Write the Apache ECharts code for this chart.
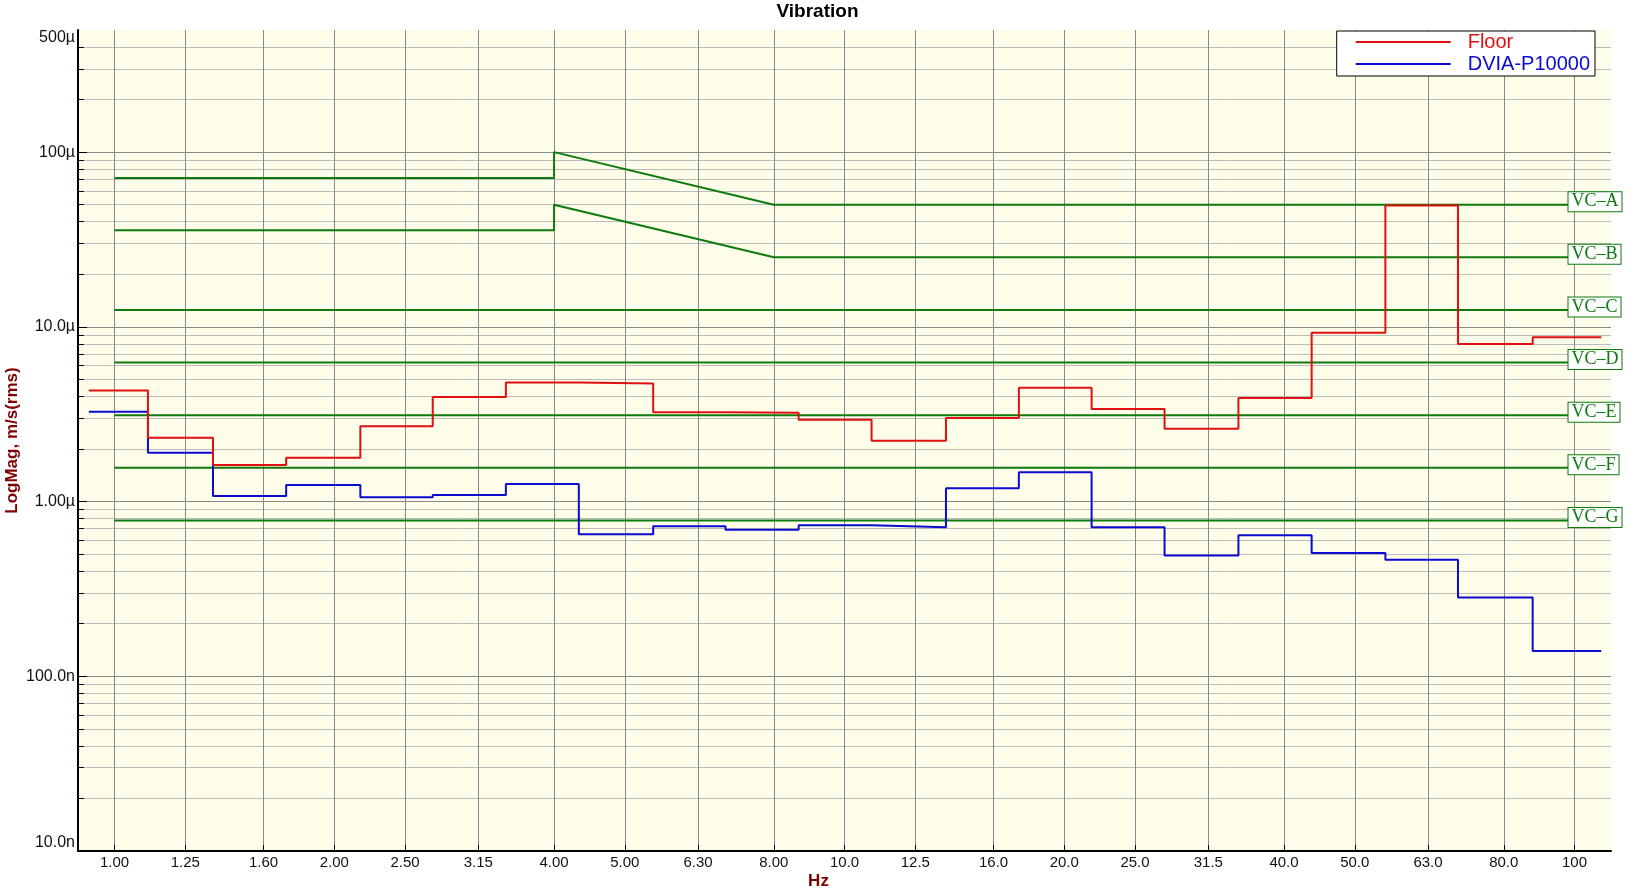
<!DOCTYPE html>
<html>
<head>
<meta charset="utf-8">
<script src="https://cdn.jsdelivr.net/npm/echarts@6/dist/echarts.min.js"></script>
<style>
html,body{margin:0;padding:0;background:#fff;}
#chart{width:1635px;height:892px;}
</style>
</head>
<body>
<div id="chart"></div>
<script>
// ---- Data ----
// nominal 1/3-octave band frequencies (Hz) and their tick labels
const bandFreqs = [1, 1.25, 1.6, 2, 2.5, 3.15, 4, 5, 6.3, 8, 10, 12.5, 16, 20, 25, 31.5, 40, 50, 63, 80, 100];
const bandLabels = ['1.00','1.25','1.60','2.00','2.50','3.15','4.00','5.00','6.30','8.00','10.0','12.5','16.0','20.0','25.0','31.5','40.0','50.0','63.0','80.0','100'];
// step edges (Hz) where the band values change, as drawn
const bandEdges = [0.922, 1.111, 1.364, 1.718, 2.171, 2.728, 3.436, 4.325, 5.468, 6.869, 8.652, 10.89, 13.77, 17.33, 21.80, 27.44, 34.64, 43.64, 55.07, 69.24, 87.64, 108.8];
// band values, m/s (rms)
const floorVals = [4.32e-6, 2.32e-6, 1.62e-6, 1.78e-6, 2.70e-6, 3.97e-6, 4.80e-6, 4.74e-6, 3.24e-6, 3.22e-6, 2.94e-6, 2.23e-6, 3.01e-6, 4.48e-6, 3.39e-6, 2.61e-6, 3.92e-6, 9.26e-6, 49.5e-6, 7.98e-6, 8.71e-6];
const dviaVals = [3.27e-6, 1.90e-6, 1.075e-6, 1.245e-6, 1.06e-6, 1.09e-6, 1.26e-6, 0.650e-6, 0.722e-6, 0.689e-6, 0.732e-6, 0.713e-6, 1.19e-6, 1.47e-6, 0.713e-6, 0.492e-6, 0.642e-6, 0.508e-6, 0.465e-6, 0.282e-6, 0.1394e-6];
// vibration criteria curves: [Hz, m/s]
const vcA = [[1, 71e-6], [4, 71e-6], [4, 100e-6], [8, 50e-6], [100, 50e-6]];
const vcB = [[1, 35.7e-6], [4, 35.7e-6], [4, 50e-6], [8, 25e-6], [100, 25e-6]];
const vcC = [[1, 12.5e-6], [100, 12.5e-6]];
const vcD = [[1, 6.25e-6], [100, 6.25e-6]];
const vcE = [[1, 3.12e-6], [100, 3.12e-6]];
const vcF = [[1, 1.56e-6], [100, 1.56e-6]];
const vcG = [[1, 0.78e-6], [100, 0.78e-6]];
const vcNames = ['VC–A','VC–B','VC–C','VC–D','VC–E','VC–F','VC–G'];
// y-axis ticks
const yMajorTicks = [1e-8, 1e-7, 1e-6, 1e-5, 1e-4];
const yLabelTicks = [1e-8, 1e-7, 1e-6, 1e-5, 1e-4, 5e-4];
const yLabelTexts = ['10.0n', '100.0n', '1.00µ', '10.0µ', '100µ', '500µ'];
const minorMult = [2, 3, 4, 5, 6, 7, 8, 9];
const xMin = 0.891, xMax = 112.2, yMin = 1e-8, yMax = 5e-4;

// ---- build ----
const yMinorTicks = [];
yMajorTicks.forEach(d => minorMult.forEach(m => { const v = m * d; if (v < yMax * 0.999) yMinorTicks.push(v); }));

function stepData(vals) {
  const out = vals.map((v, i) => [bandEdges[i], v]);
  out.push([bandEdges[vals.length], vals[vals.length - 1]]);
  return out;
}
function findLabel(v, ticks, texts) {
  for (let i = 0; i < ticks.length; i++) {
    if (Math.abs(Math.log10(v) - Math.log10(ticks[i])) < 1e-4) return texts[i];
  }
  return '';
}

const GREEN = '#0c7a0c', RED = '#e01010', BLUE = '#0a0ad0';
const FONT = 'Liberation Sans, Arial, sans-serif';
const gridCol = '#888888', minorCol = '#bcbcbc';

const vcSeries = [vcA, vcB, vcC, vcD, vcE, vcF, vcG].map((d, i) => ({
  name: vcNames[i],
  type: 'line',
  data: d,
  symbol: 'none',
  showSymbol: false,
  lineStyle: { color: GREEN, width: 2 },
  itemStyle: { color: GREEN },
  z: 2,
  silent: true,
  endLabel: {
    show: true,
    formatter: vcNames[i],
    color: GREEN,
    fontFamily: 'Liberation Serif, Times New Roman, serif',
    fontSize: 18,
    lineHeight: 18,
    backgroundColor: '#ffffff',
    borderColor: GREEN,
    borderWidth: 1,
    padding: [1, 3, 0, 3],
    distance: 0,
    offset: [-6, -3]
  }
}));

const chart = echarts.init(document.getElementById('chart'), null, { renderer: 'canvas' });
chart.setOption({
  animation: false,
  backgroundColor: '#ffffff',
  title: {
    text: 'Vibration',
    left: 'center',
    top: 2,
    padding: 0,
    textStyle: { fontSize: 19, fontWeight: 'bold', color: '#000', fontFamily: FONT }
  },
  legend: {
    data: [
      { name: 'Floor', textStyle: { color: RED } },
      { name: 'DVIA-P10000', textStyle: { color: BLUE } }
    ],
    orient: 'vertical',
    right: 40,
    top: 31,
    padding: [1, 5, 2, 19],
    icon: 'rect',
    itemWidth: 95,
    itemHeight: 2,
    itemGap: 2,
    backgroundColor: '#ffffff',
    borderColor: '#000',
    borderWidth: 1,
    borderRadius: 0,
    textStyle: { fontSize: 20, fontFamily: FONT, lineHeight: 20, padding: [0, 0, 0, 12] }
  },
  grid: {
    left: 78, top: 30, right: 24, bottom: 41,
    containLabel: false,
    outerBoundsMode: 'none',
    show: true,
    backgroundColor: '#fdfde9',
    borderWidth: 0
  },
  xAxis: {
    type: 'log',
    min: xMin,
    max: xMax,
    name: 'Hz',
    nameLocation: 'middle',
    nameGap: 22,
    nameMoveOverlap: false,
    nameTextStyle: { color: '#800000', fontWeight: 'bold', fontSize: 17, fontFamily: FONT, padding: [0, 52, 0, 0] },
    axisLine: { show: true, onZero: false, lineStyle: { color: '#000', width: 2 } },
    axisTick: { show: true, inside: true, length: 6, customValues: bandFreqs, lineStyle: { color: '#000' } },
    axisLabel: {
      customValues: bandFreqs,
      color: '#111', fontSize: 15, fontFamily: FONT, margin: 4,
      formatter: v => findLabel(v, bandFreqs, bandLabels)
    },
    splitLine: { show: true, lineStyle: { color: gridCol, width: 1 } },
    minorSplitLine: { show: false }
  },
  yAxis: [
    {
      type: 'log',
      min: yMin,
      max: yMax,
      name: 'LogMag, m/s(rms)',
      nameLocation: 'middle',
      nameGap: 57,
      nameMoveOverlap: false,
      nameTextStyle: { color: '#800000', fontWeight: 'bold', fontSize: 17, fontFamily: FONT },
      axisLine: { show: true, onZero: false, lineStyle: { color: '#000', width: 2 } },
      axisTick: { show: true, inside: true, length: 9, customValues: yMajorTicks, lineStyle: { color: '#000' } },
      axisLabel: {
        customValues: yLabelTicks,
        color: '#111', fontSize: 16, fontFamily: FONT, margin: 3,
        verticalAlignMaxLabel: 'top',
        verticalAlignMinLabel: 'bottom',
        formatter: v => findLabel(v, yLabelTicks, yLabelTexts)
      },
      splitLine: { show: true, lineStyle: { color: gridCol, width: 1 } }
    },
    {
      type: 'log',
      min: yMin,
      max: yMax,
      position: 'left',
      offset: 0,
      axisLine: { show: false },
      axisTick: { show: true, inside: true, length: 6, customValues: yMinorTicks, lineStyle: { color: '#000' } },
      axisLabel: { show: false, customValues: yMinorTicks },
      splitLine: { show: true, lineStyle: { color: minorCol, width: 1 } }
    }
  ],
  series: vcSeries.concat([
    {
      name: 'Floor',
      type: 'line',
      step: 'end',
      data: stepData(floorVals),
      symbol: 'none',
      showSymbol: false,
      lineStyle: { color: RED, width: 2 },
      itemStyle: { color: RED },
      z: 4
    },
    {
      name: 'DVIA-P10000',
      type: 'line',
      step: 'end',
      data: stepData(dviaVals),
      symbol: 'none',
      showSymbol: false,
      lineStyle: { color: BLUE, width: 2 },
      itemStyle: { color: BLUE },
      z: 3
    }
  ])
});
</script>
</body>
</html>
